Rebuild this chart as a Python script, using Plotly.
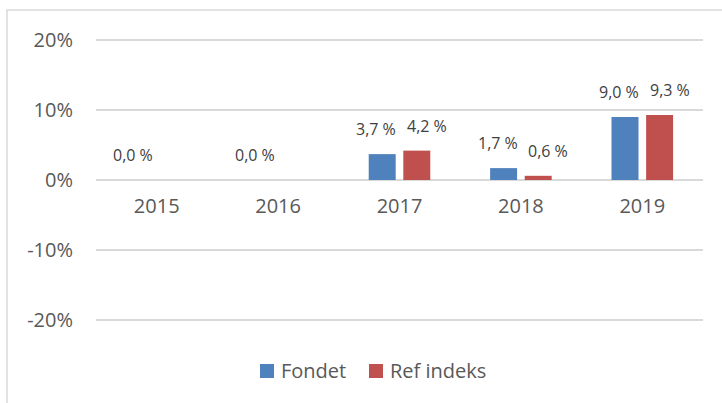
import plotly.graph_objects as go

# ---- data ----
years = ["2015", "2016", "2017", "2018", "2019"]
fondet = [0.0, 0.0, 3.7, 1.7, 9.0]
ref_indeks = [None, None, 4.2, 0.6, 9.3]
series_names = ["Fondet", "Ref indeks"]
series_colors = ["#4F81BD", "#C0504D"]
y_tick_vals = [-20, -10, 0, 10, 20]
y_tick_text = ["-20%", "-10%", "0%", "10%", "20%"]

# ---- layout geometry ----
W, H = 722, 403
L, R, T, B = 96, 19, 38, 81
pw, ph = W - L - R, H - T - B


def fx(px):
    return (px - L) / pw


def fy(py):
    return (H - B - py) / ph


FONT = "Open Sans"
AXIS_COLOR = "#595959"
LABEL_COLOR = "#404040"
GRID = "#d9d9d9"
bargap = 0.43
bargroupgap = 0.22

fig = go.Figure()
all_vals = [fondet, ref_indeks]
for name, vals, col in zip(series_names, all_vals, series_colors):
    fig.add_trace(go.Bar(x=years, y=vals, name=name, marker_color=col,
                         marker_line_width=0, showlegend=False))

# data labels
slot = (1 - bargap) / len(series_names)
xshifts = [-6, 10]
annotations = []
for s, vals in enumerate(all_vals):
    off = (s - (len(series_names) - 1) / 2) * slot
    for i, v in enumerate(vals):
        if v is None:
            continue
        annotations.append(dict(
            x=i + off, y=max(v, 0), xref="x", yref="y",
            text=f"{v:.1f} %".replace(".", ","), showarrow=False,
            yanchor="middle", xanchor="center", yshift=25, xshift=xshifts[s],
            font=dict(family=FONT, size=16, color=LABEL_COLOR)))

# custom legend
legend_items = [(260, 279), (369, 388)]
shapes = []
for (sq_x, tx), name, col in zip(legend_items, series_names, series_colors):
    shapes.append(dict(type="rect", xref="paper", yref="paper",
                       x0=fx(sq_x), x1=fx(sq_x + 14), y0=fy(378), y1=fy(364),
                       fillcolor=col, line_width=0))
    annotations.append(dict(x=fx(tx), y=fy(371), xref="paper", yref="paper",
                            text=name, showarrow=False, xanchor="left",
                            yanchor="middle",
                            font=dict(family=FONT, size=20, color=AXIS_COLOR)))

# chart-area border
shapes.append(dict(type="rect", xref="paper", yref="paper",
                   x0=fx(7), x1=fx(760), y0=fy(440), y1=fy(10),
                   line=dict(color=GRID, width=1.5), fillcolor="rgba(0,0,0,0)",
                   layer="below"))

fig.update_layout(
    width=W, height=H,
    margin=dict(l=L, r=R, t=T, b=B, pad=0),
    paper_bgcolor="white", plot_bgcolor="white",
    barmode="group", bargap=bargap, bargroupgap=bargroupgap,
    annotations=annotations, shapes=shapes,
    showlegend=False,
    font=dict(family=FONT, color=AXIS_COLOR),
)
fig.update_xaxes(type="category", anchor="free", position=0.5,
                 showgrid=False, showline=False, zeroline=False, ticks="",
                 ticklabelstandoff=12,
                 tickfont=dict(family=FONT, size=20, color=AXIS_COLOR))
fig.update_yaxes(range=[-20.3, 20.3], tickvals=y_tick_vals,
                 ticktext=y_tick_text,
                 showgrid=True, gridcolor=GRID, gridwidth=2,
                 zeroline=True, zerolinecolor=GRID, zerolinewidth=2,
                 showline=False, ticks="", ticklabelstandoff=22,
                 tickfont=dict(family=FONT, size=20, color=AXIS_COLOR))

fig.write_html("out.html")
